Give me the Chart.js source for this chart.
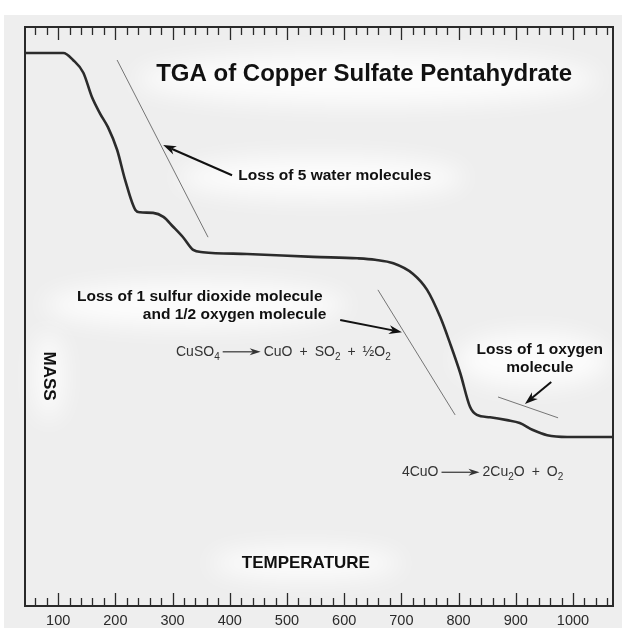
<!DOCTYPE html>
<html>
<head>
<meta charset="utf-8">
<script src="https://cdn.jsdelivr.net/npm/chart.js@4/dist/chart.umd.min.js"></script>
<style>
  html, body { margin: 0; padding: 0; background: #fff; }
  canvas { display: block; }
</style>
</head>
<body>
<canvas id="tgaChart" width="622" height="630"></canvas>
<script>
// TGA curve for CuSO4·5H2O (mass in arbitrary units, 0-100)
const TEMPERATURE = [42, 109, 126, 144, 159, 173, 187, 203, 217, 235, 243, 266, 284, 301, 319, 336, 353,
    430, 546, 623, 654, 686, 720, 745, 768, 785, 803, 820, 832, 855, 885, 907, 930, 955, 990, 1070];
const MASS = [95.5, 95.5, 94.3, 92.1, 87.9, 85.1, 82.7, 78.8, 73.6, 68.4, 68.0, 67.9, 67.2, 65.5, 63.6, 61.5, 61.1,
    60.8, 60.3, 60.05, 59.8, 59.2, 57.4, 54.6, 49.9, 45.4, 40.2, 34.4, 33.0, 32.6, 32.1, 31.6, 30.4, 29.5, 29.2, 29.2];

// Thin tangent lines drawn along each step
const TANGENT_WATER = [{ x: 203, y: 94.3 }, { x: 362, y: 63.7 }];
const TANGENT_SO2 = [{ x: 659, y: 54.6 }, { x: 794, y: 33.0 }];
const TANGENT_O2 = [{ x: 869, y: 36.1 }, { x: 974, y: 32.5 }];

// Axis
const T_MIN = 42;
const T_MAX = 1070;
const MAJOR_TICKS = [100, 200, 300, 400, 500, 600, 700, 800, 900, 1000];

const FONT = "'Liberation Sans', Arial, Helvetica, sans-serif";

// Text annotations (positions in data units)
const NOTES = [
    { text: 'TGA of Copper Sulfate Pentahydrate', x: 635, y: 91.9, size: 24, align: 'center' },
    { text: 'Loss of 5 water molecules', x: 415, y: 74.3, size: 15.5, align: 'left' },
    { text: 'Loss of 1 sulfur dioxide molecule', x: 133, y: 53.4, size: 15.5, align: 'left' },
    { text: 'and 1/2 oxygen molecule', x: 248, y: 50.3, size: 15.5, align: 'left' },
    { text: 'Loss of 1 oxygen', x: 942, y: 44.2, size: 15.5, align: 'center' },
    { text: 'molecule', x: 942, y: 41.1, size: 15.5, align: 'center' },
    { text: 'TEMPERATURE', x: 533, y: 7.4, size: 17, align: 'center' },
    { text: 'MASS', x: 84, y: 39.7, size: 17, align: 'center', rotate: true }
];

// Pointer arrows: [from, to]
const ARROWS = [
    [[404, 74.4], [283.5, 79.6]],
    [[593, 49.4], [701, 47.3]],
    [[962, 38.7], [916, 34.9]]
];

// Reaction equations: pieces of text, subscripts and reaction arrows
const EQUATIONS = [
    { x: 306, y: 43.9, parts: [['CuSO'], ['4', 'sub'], ['', 'arrow'], ['CuO\u2002+\u2002SO'], ['2', 'sub'], ['\u2002+\u2002\u00BDO'], ['2', 'sub']] },
    { x: 701, y: 23.1, parts: [['4CuO'], ['', 'arrow'], ['2Cu'], ['2', 'sub'], ['O\u2002+\u2002O'], ['2', 'sub']] }
];

// Soft white patches behind the labels (centre in data units, radii in px)
const PATCHES = [
    { x: 640, y: 91, rx: 145, ry: 16 },
    { x: 560, y: 74, rx: 90, ry: 13 },
    { x: 340, y: 52, rx: 95, ry: 14 },
    { x: 930, y: 42.5, rx: 48, ry: 17 },
    { x: 533, y: 7.4, rx: 60, ry: 10 },
    { x: 84, y: 39.7, rx: 9, ry: 28 }
];

function drawArrow(ctx, x1, y1, x2, y2, head, width) {
    const a = Math.atan2(y2 - y1, x2 - x1);
    const cos = Math.cos(a), sin = Math.sin(a);
    ctx.beginPath();
    ctx.moveTo(x1, y1);
    ctx.lineTo(x2 - head * 0.7 * cos, y2 - head * 0.7 * sin);
    ctx.stroke();
    ctx.beginPath();
    ctx.moveTo(x2, y2);
    ctx.lineTo(x2 - head * cos + width / 2 * sin, y2 - head * sin - width / 2 * cos);
    ctx.lineTo(x2 - head * 0.7 * cos, y2 - head * 0.7 * sin);
    ctx.lineTo(x2 - head * cos - width / 2 * sin, y2 - head * sin + width / 2 * cos);
    ctx.closePath();
    ctx.fill();
}

const paperPlugin = {
    id: 'paper',
    beforeDraw(chart) {
        const ctx = chart.ctx;
        const xs = chart.scales.x, ys = chart.scales.y;
        ctx.save();
        ctx.fillStyle = '#fff';
        ctx.fillRect(0, 0, chart.width, chart.height);
        ctx.fillStyle = '#eeeeee';
        ctx.fillRect(4, 15, chart.width - 4, chart.height - 17);
        ctx.filter = 'blur(12px)';
        ctx.fillStyle = 'rgba(255,255,255,0.85)';
        PATCHES.forEach(p => {
            const cx = xs.getPixelForValue(p.x), cy = ys.getPixelForValue(p.y);
            ctx.beginPath();
            ctx.ellipse(cx, cy, p.rx * 1.6, p.ry * 1.6, 0, 0, Math.PI * 2);
            ctx.fill();
        });
        ctx.restore();
    },
    afterDraw(chart) {
        const ctx = chart.ctx;
        const area = chart.chartArea;
        const xs = chart.scales.x, ys = chart.scales.y;
        ctx.save();

        // frame
        ctx.strokeStyle = '#2a2a2a';
        ctx.lineWidth = 2;
        ctx.strokeRect(area.left, area.top, area.right - area.left, area.bottom - area.top);

        // inward ticks on top and bottom edges
        ctx.lineWidth = 1.3;
        xs.ticks.forEach(t => {
            const x = Math.round(xs.getPixelForValue(t.value)) + 0.5;
            const len = MAJOR_TICKS.includes(t.value) ? 13 : 8;
            ctx.beginPath();
            ctx.moveTo(x, area.bottom);
            ctx.lineTo(x, area.bottom - len);
            ctx.moveTo(x, area.top);
            ctx.lineTo(x, area.top + len);
            ctx.stroke();
        });

        // labels
        ctx.fillStyle = '#111';
        ctx.textBaseline = 'middle';
        NOTES.forEach(n => {
            ctx.font = 'bold ' + n.size + 'px ' + FONT;
            ctx.textAlign = n.align;
            const x = xs.getPixelForValue(n.x), y = ys.getPixelForValue(n.y);
            if (n.rotate) {
                ctx.save();
                ctx.translate(x, y);
                ctx.rotate(Math.PI / 2);
                ctx.fillText(n.text, 0, 0);
                ctx.restore();
            } else {
                ctx.fillText(n.text, x, y);
            }
        });

        // pointer arrows
        ctx.strokeStyle = '#111';
        ctx.fillStyle = '#111';
        ctx.lineWidth = 2;
        ARROWS.forEach(([from, to]) => {
            drawArrow(ctx, xs.getPixelForValue(from[0]), ys.getPixelForValue(from[1]),
                xs.getPixelForValue(to[0]), ys.getPixelForValue(to[1]), 13, 9);
        });

        // reaction equations
        ctx.fillStyle = '#333';
        ctx.strokeStyle = '#333';
        ctx.textAlign = 'left';
        EQUATIONS.forEach(eq => {
            let x = xs.getPixelForValue(eq.x);
            const y = ys.getPixelForValue(eq.y);
            eq.parts.forEach(([txt, kind]) => {
                if (kind === 'arrow') {
                    ctx.lineWidth = 1.2;
                    drawArrow(ctx, x + 3, y, x + 41, y, 11, 7);
                    x += 44;
                } else if (kind === 'sub') {
                    ctx.font = '10px ' + FONT;
                    ctx.fillText(txt, x, y + 5);
                    x += ctx.measureText(txt).width;
                } else {
                    ctx.font = '14px ' + FONT;
                    ctx.fillText(txt, x, y);
                    x += ctx.measureText(txt).width;
                }
            });
        });
        ctx.restore();
    }
};

const thin = { borderColor: '#555', borderWidth: 0.8, pointRadius: 0, fill: false };

new Chart(document.getElementById('tgaChart'), {
    type: 'line',
    data: {
        datasets: [
            {
                label: 'Mass',
                data: TEMPERATURE.map((t, i) => ({ x: t, y: MASS[i] })),
                borderColor: '#2b2b2b',
                borderWidth: 2.6,
                pointRadius: 0,
                cubicInterpolationMode: 'monotone',
                fill: false
            },
            Object.assign({ label: 'water', data: TANGENT_WATER }, thin),
            Object.assign({ label: 'so2', data: TANGENT_SO2 }, thin),
            Object.assign({ label: 'o2', data: TANGENT_O2 }, thin)
        ]
    },
    options: {
        responsive: false,
        animation: false,
        layout: { padding: { left: 25, right: 9, top: 27, bottom: 0 } },
        plugins: {
            legend: { display: false },
            title: { display: false },
            tooltip: { enabled: false }
        },
        scales: {
            x: {
                type: 'linear',
                min: T_MIN,
                max: T_MAX,
                grid: { display: false, drawTicks: false },
                border: { display: false },
                ticks: {
                    stepSize: 20,
                    autoSkip: false,
                    includeBounds: false,
                    maxRotation: 0,
                    padding: 6,
                    color: '#2a2a2a',
                    font: { family: FONT, size: 14.5 },
                    callback: v => MAJOR_TICKS.includes(v) ? String(v) : ''
                },
                afterFit: s => { s.height = 24; }
            },
            y: { min: 0, max: 100, display: false }
        }
    },
    plugins: [paperPlugin]
});
</script>
</body>
</html>
